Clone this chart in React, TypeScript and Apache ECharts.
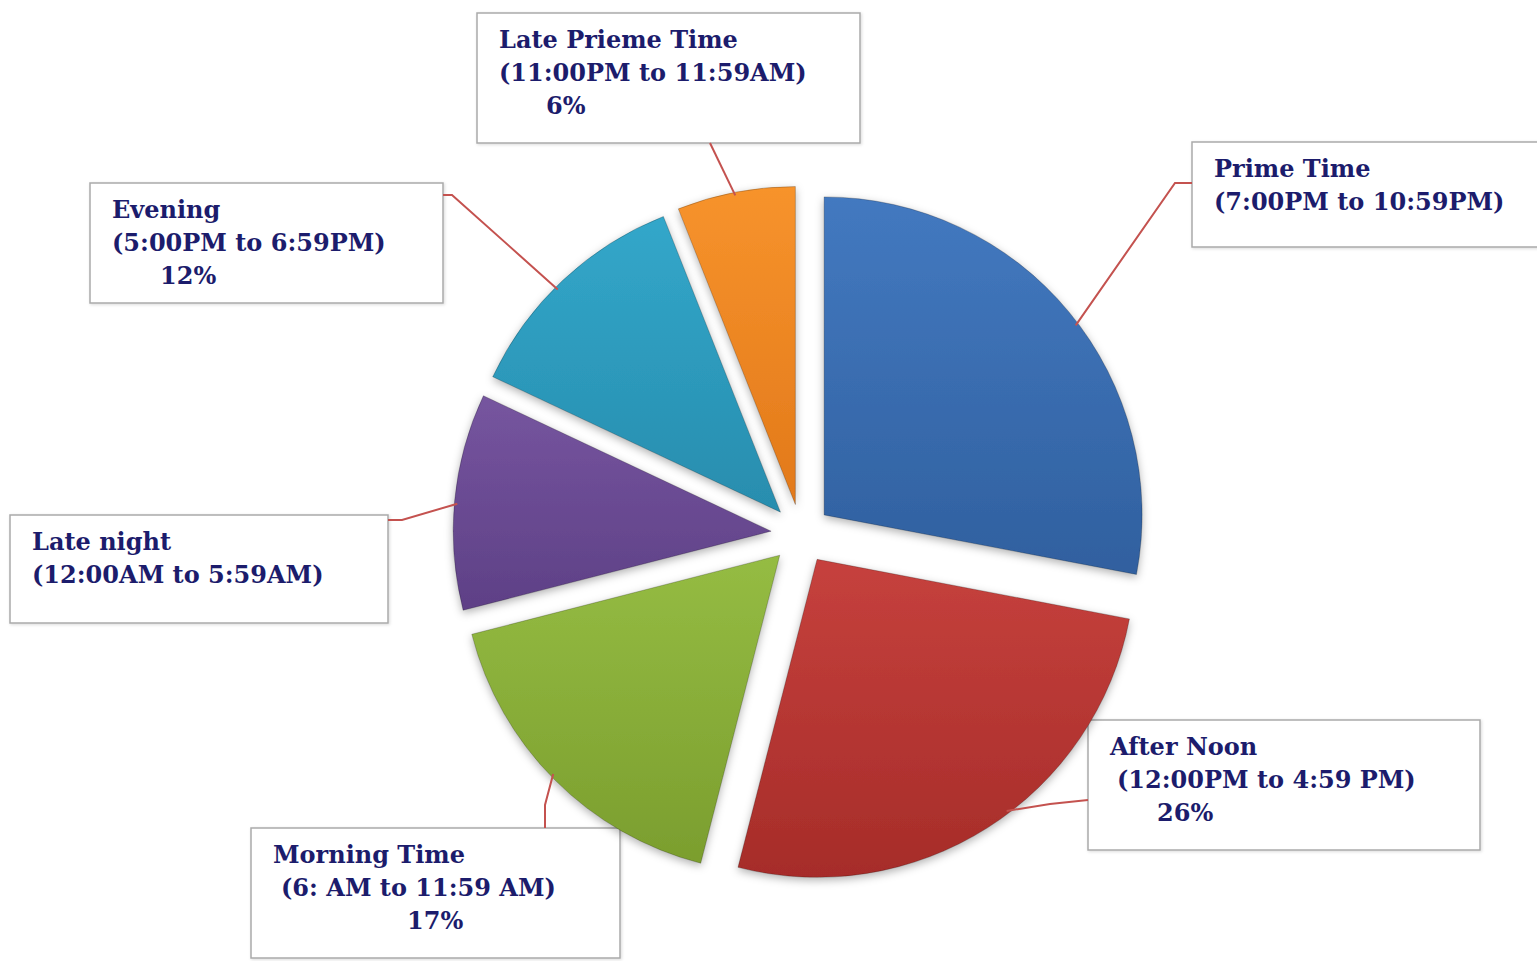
import React, { useEffect, useRef } from "react";
import * as echarts from "echarts";

// ---- data ----
const categories = ["Prime Time", "After Noon", "Morning Time", "Late night", "Evening", "Late Prieme Time"];
const timeRanges = [
  "(7:00PM to 10:59PM)",
  "(12:00PM to 4:59 PM)",
  "(6: AM to 11:59 AM)",
  "(12:00AM to 5:59AM)",
  "(5:00PM to 6:59PM)",
  "(11:00PM to 11:59AM)",
];
const values = [28, 26, 17, 11, 12, 6];
const showPercent = [false, true, true, false, true, true];

// ---- styling / layout ----
const sliceColors = [
  ["#4379c0", "#30609f"],
  ["#c6413d", "#a62c29"],
  ["#95bc43", "#7b9e2e"],
  ["#76559f", "#5e4086"],
  ["#32a7ca", "#288dae"],
  ["#f7932c", "#e2791a"],
];
const CX = 801;
const CY = 534;
const R = 318;
const OFF = 30;
// label boxes [x, y, w, h]
const boxes = [
  [1192, 142, 360, 105],
  [1088, 720, 392, 130],
  [251, 828, 369, 130],
  [10, 515, 378, 108],
  [90, 183, 353, 120],
  [477, 13, 383, 130],
];
const rangeIndent = [0, 7, 8, 0, 0, 0];
const pctIndent = [0, 47, 134, 0, 48, 47];
const anchorAngle = [53, 143, 226, 275, 315, 349];
const leaderMid = [
  [1175, 183],
  [1050, 804],
  [545, 805],
  [402, 520],
  [452, 195],
  [710, 143],
];
const leaderEnd = [
  [1192, 183],
  [1088, 800],
  [545, 828],
  [388, 520],
  [443, 195],
  [710, 143],
];
const TEXT_COLOR = "#1c1c6c";
const FONT = "bold 24px 'DejaVu Serif'";

export default function App() {
  const ref = useRef<HTMLDivElement>(null);
  useEffect(() => {
    if (!ref.current) return;
    const chart = echarts.init(ref.current, null, { renderer: "svg" });
    const total = values.reduce((a, b) => a + b, 0);
    const midAngles: number[] = [];
    let acc = 0;
    values.forEach((v) => {
      midAngles.push(((acc + v / 2) / total) * 360);
      acc += v;
    });
    const data = categories.map((name, i) => ({
      name,
      value: values[i],
      selected: true,
      itemStyle: {
        color: {
          type: "linear",
          x: 0,
          y: 0,
          x2: 0,
          y2: 1,
          colorStops: [
            { offset: 0, color: sliceColors[i][0] },
            { offset: 1, color: sliceColors[i][1] },
          ],
        },
      },
    }));

    const lines: any[] = [];
    const labels: any[] = [];
    categories.forEach((name, i) => {
      const m = (midAngles[i] * Math.PI) / 180;
      const a = (anchorAngle[i] * Math.PI) / 180;
      const ox = CX + OFF * Math.sin(m);
      const oy = CY - OFF * Math.cos(m);
      const anchor = [ox + (R - 3) * Math.sin(a), oy - (R - 3) * Math.cos(a)];
      lines.push({
        type: "polyline",
        z: 10,
        shape: { points: [anchor, leaderMid[i], leaderEnd[i]] },
        style: { stroke: "#c4524f", lineWidth: 2, fill: null },
        silent: true,
      });
      const b = boxes[i];
      const children: any[] = [
        {
          type: "rect",
          shape: { x: b[0], y: b[1], width: b[2], height: b[3] },
          style: {
            fill: "#ffffff",
            stroke: "#ababab",
            lineWidth: 1.5,
            shadowBlur: 3,
            shadowColor: "rgba(0,0,0,0.15)",
            shadowOffsetX: 1,
            shadowOffsetY: 1,
          },
        },
      ];
      const textLines = [
        { t: name, dx: 0 },
        { t: timeRanges[i], dx: rangeIndent[i] },
      ];
      if (showPercent[i]) textLines.push({ t: values[i] + "%", dx: pctIndent[i] });
      textLines.forEach((ln, k) => {
        children.push({
          type: "text",
          x: b[0] + 22 + ln.dx,
          y: b[1] + 10 + 33 * k + 16.5,
          style: {
            text: ln.t,
            font: FONT,
            fill: TEXT_COLOR,
            textAlign: "left",
            textVerticalAlign: "middle",
          },
        });
      });
      labels.push({ type: "group", z: 20, silent: true, children });
    });

    chart.setOption({
      animation: false,
      backgroundColor: "#ffffff",
      series: [
        {
          type: "pie",
          center: [CX, CY],
          radius: R,
          startAngle: 90,
          clockwise: true,
          selectedMode: "multiple",
          selectedOffset: OFF,
          avoidLabelOverlap: false,
          data,
          itemStyle: {
            borderColor: "rgba(0,0,0,0.22)",
            borderWidth: 1,
            shadowBlur: 8,
            shadowOffsetY: 3,
            shadowColor: "rgba(0,0,0,0.3)",
          },
          select: { itemStyle: { borderColor: "rgba(0,0,0,0.22)", borderWidth: 1 } },
          emphasis: { disabled: true },
          label: { show: false },
          labelLine: { show: false },
        },
      ],
      graphic: [...lines, ...labels],
    });
    return () => chart.dispose();
  }, []);
  return (
    <div
      ref={ref}
      style={{ position: "fixed", left: 0, top: 0, width: 1537, height: 961, background: "#fff" }}
    />
  );
}
